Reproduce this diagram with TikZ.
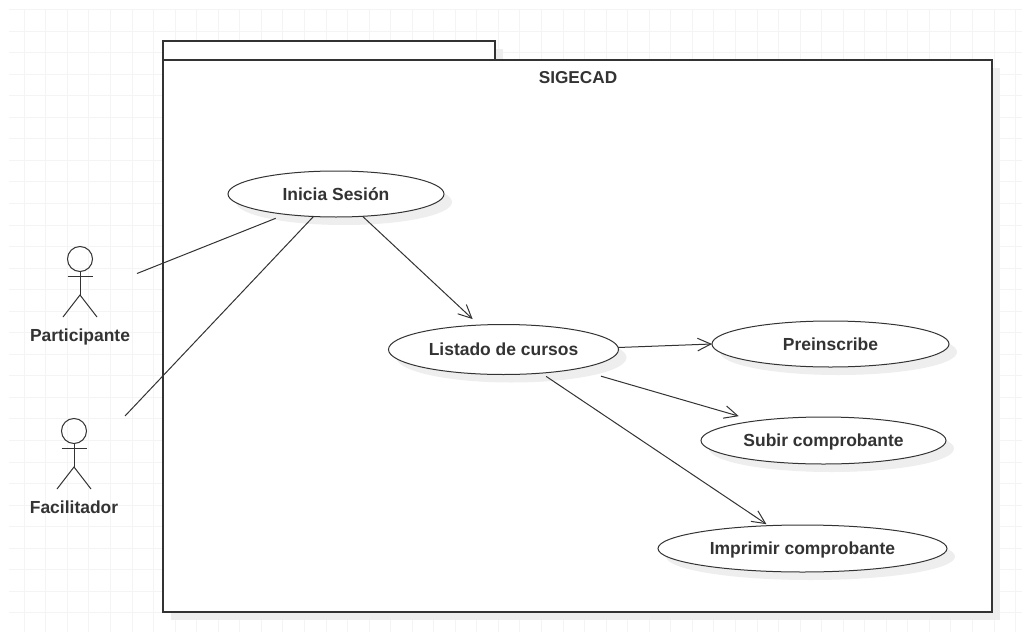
\documentclass[tikz,border=0pt]{standalone}
\usepackage{fontspec}
\setmainfont{Liberation Sans}
\usetikzlibrary{arrows.meta,shapes.geometric,shadows}
\definecolor{inkgray}{HTML}{333333}
\definecolor{gridgray}{HTML}{F4F4F4}
\definecolor{shadowgray}{HTML}{EEEEEE}
\tikzset{
    gridline/.style={draw=gridgray, line width=0.75pt},
    softshadow/.style={general shadow={shadow xshift=6pt, shadow yshift=-6pt, fill=shadowgray}},
    frame/.style={draw=inkgray, fill=white, line width=1.1pt, rectangle, inner sep=0pt, outer sep=0pt, softshadow},
    usecase/.style 2 args={draw=inkgray, fill=white, line width=0.75pt, ellipse, inner sep=0pt, outer sep=0pt,
        minimum width=#1*0.75pt, minimum height=#2*0.75pt, softshadow},
    label/.style={text=inkgray, font=\fontsize{13.1}{15}\selectfont\bfseries, inner sep=0pt, text height=12pt, text depth=3pt},
    stick/.style={draw=inkgray, line width=0.75pt},
    link/.style={draw=inkgray, line width=0.75pt},
    flow/.style={link, -{Straight Barb[length=10pt, width=9.5pt, line width=0.75pt]}}
}
\begin{document}
\begin{tikzpicture}[x=0.75pt, y=-0.75pt]
    \useasboundingbox (0,0) rectangle (1022,632);
    \fill[white] (0,0) rectangle (1022,632);
    % Draw the background grid
    \foreach \x in {0,...,46} {
        \draw[gridline] ({24.3+21.55*\x},9) -- ({24.3+21.55*\x},632);
    }
    \foreach \y in {0,...,28} {
        \draw[gridline] (9,{9.5+21.55*\y}) -- (1022,{9.5+21.55*\y});
    }
    % Package tab and body
    \node[frame, minimum width=332*0.75pt, minimum height=20*0.75pt] (tab) at (329,51) {};
    \node[frame, minimum width=829*0.75pt, minimum height=552*0.75pt] (sigecad) at (577.5,336) {};
    \node[label, font=\fontsize{12.9}{15}\selectfont\bfseries] (title) at (578,77.8) {SIGECAD};
    % Use cases
    \node[usecase={216}{46}, label] (inicia) at (336,194) {Inicia Sesión};
    \node[usecase={230}{50}, label] (listado) at (503.5,349.5) {Listado de cursos};
    \node[usecase={237}{46}, label] (preinscribe) at (830.5,344) {Preinscribe};
    \node[usecase={245}{47}, label] (subir) at (823.5,440.5) {Subir comprobante};
    \node[usecase={289}{47}, label] (imprimir) at (802.5,548.5) {Imprimir comprobante};
    % Draw the actors and name them
    \foreach \name/\x/\y/\txt in {participante/80/259/Participante, facilitador/74/431/Facilitador} {
        \node[draw=inkgray, line width=0.75pt, circle, inner sep=0pt, minimum size=25*0.75pt, outer sep=0pt] (\name head) at (\x,\y) {};
        \coordinate (\name hip) at (\x,\y+36);
        \draw[stick] (\name head.south) -- (\name hip);
        \draw[stick] (\x-12.5,\y+17) -- (\x+12.5,\y+17);
        \draw[stick] (\x-17,\y+58) -- (\name hip) -- (\x+17,\y+58);
        \node[label] (\name) at (\x,\y+76) {\txt};
    }
    % Free ends of the actor lines
    \coordinate (participante end) at (137,273.5);
    \coordinate (facilitador end) at (125,416);
    \draw[link, shorten >=8pt] (participante end) -- (inicia.202);
    \draw[link] (facilitador end) -- (inicia.225);
    % Arrows between the use cases
    \draw[flow, shorten >=6.6pt] (inicia.-40) -- (listado.135);
    \draw[flow] (listado.1) -- (preinscribe.west);
    \draw[flow, shorten <=19.5pt, shorten >=13pt] (listado.-15.8) -- (subir.164.5);
    \draw[flow, shorten <=4.4pt, shorten >=2pt] (listado.-32) -- (imprimir.146);
\end{tikzpicture}
\end{document}
